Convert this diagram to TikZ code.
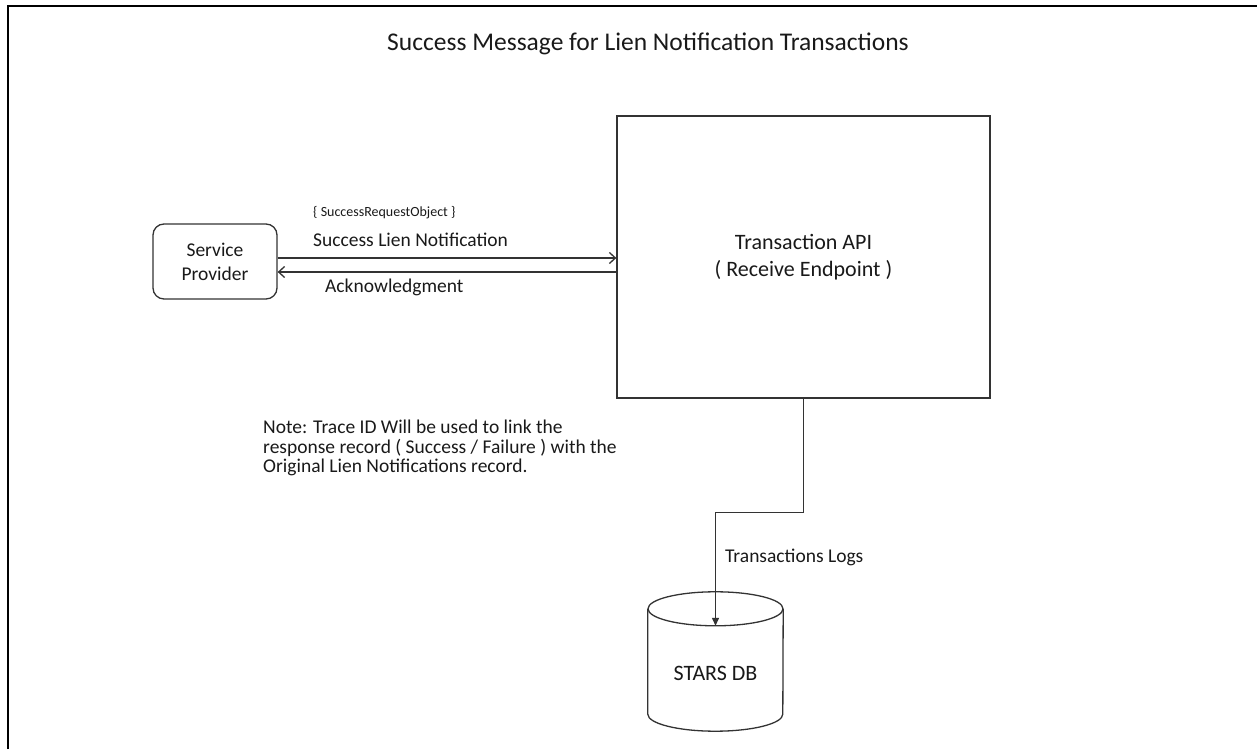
\documentclass[tikz,border=0pt]{standalone}
\usepackage{fontspec}
\setmainfont{Carlito}
\usetikzlibrary{arrows.meta,calc}
\begin{document}
\begin{tikzpicture}[x=1pt,y=1pt,
  line/.style={draw=black!80, line width=1.3pt},
  boxnode/.style={line, rectangle, inner sep=0pt, align=center, text=black!90},
  lbl/.style={inner sep=0pt, text=black!90, font=\fontsize{19.5}{23}\selectfont},
  openarr/.style={line, -{Straight Barb[length=6pt,width=11pt]}},
  filarr/.style={line, -{Triangle[length=8pt,width=7pt]}}
]
\useasboundingbox (0,0) rectangle (1257,749);
% outer frame
\draw[black, line width=2.2pt] (8,0) -- (8,743) -- (1257,743);
% title
\node[lbl, font=\fontsize{25.5}{30}\selectfont] (title) at (648,705) {Success Message for Lien Notification Transactions};
% nodes
\node[boxnode, minimum width=373pt, minimum height=282pt, font=\fontsize{22}{27}\selectfont] (api) at (803.5,492) {Transaction API\\( Receive Endpoint )};
\node[boxnode, rounded corners=11pt, minimum width=124pt, minimum height=75pt, font=\fontsize{19.5}{24}\selectfont] (sp) at (215,487.5) {Service\\Provider};
\node[inner sep=0pt, minimum width=135pt, minimum height=139pt] (db) at (715.5,87.5) {};
% cylinder drawing
\draw[line, fill=white] (db.north west) ++(0,-17) coordinate (c1) -- ($(db.south west)+(0,17)$) arc (180:360:67.5 and 17) -- ($(db.north east)+(0,-17)$);
\draw[line] ($(db.north)+(0,-17)$) ellipse (67.5 and 17);
\node[lbl, font=\fontsize{22}{26}\selectfont] (dbl) at (715.5,76) {STARS DB};
% labels
\node[inner sep=0pt, anchor=west, text=black!90, font=\fontsize{14}{16}\selectfont] (obj) at (313,536) {\{ SuccessRequestObject \}};
\node[lbl, anchor=west] (sln) at (313,509) {Success Lien Notification};
\node[lbl, anchor=west] (ack) at (325,462) {Acknowledgment};
\node[lbl, anchor=west] (tlog) at (725,192) {Transactions Logs};
\node[lbl, anchor=west, align=left, font=\fontsize{19.5}{19.5}\selectfont] (note) at (263,301) {Note: Trace ID Will be used to link the\\response record ( Success / Failure ) with the\\Original Lien Notifications record.};
% connectors
\draw[openarr] ([yshift=3.5pt]sp.east) -- ([yshift=3.5pt]sp.east -| api.west);
\draw[openarr] ([yshift=-10.5pt]sp.east -| api.west) -- ([yshift=-10.5pt]sp.east);
\draw[filarr] (api.south) -- ++(0,-114) -| ([yshift=-34pt]db.north);
\end{tikzpicture}
\end{document}
